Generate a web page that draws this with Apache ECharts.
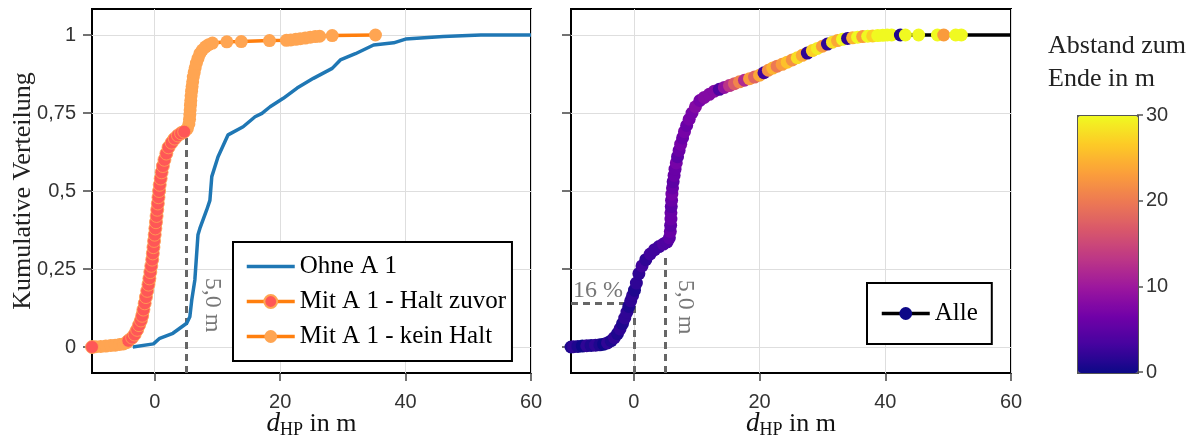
<!DOCTYPE html>
<html>
<head>
<meta charset="utf-8">
<script src="https://cdn.jsdelivr.net/npm/echarts@6/dist/echarts.min.js"></script>
<style>
  html, body { margin: 0; padding: 0; background: #fff; }
  #chart { width: 1195px; height: 438px; }
</style>
</head>
<body>
<div id="chart"></div>
<script>
// ---- data ----
// left panel: Ohne A 1
var ohneX = [-3.5, -0.2, 0.8, 2.9, 5.1, 5.6, 5.9, 6.4, 6.9, 7.2, 8.3, 8.8, 9.1, 10.1, 11.7, 14.1, 16.0, 17.1, 18.4, 20.5, 22.7, 25.3, 28.3, 29.6, 32.0, 34.9, 38.1, 40.0, 46.0, 52.0, 60.0];
var ohneY = [0.0, 0.01, 0.028, 0.044, 0.076, 0.097, 0.15, 0.215, 0.36, 0.38, 0.44, 0.47, 0.546, 0.61, 0.68, 0.706, 0.738, 0.749, 0.77, 0.797, 0.83, 0.861, 0.893, 0.92, 0.94, 0.968, 0.975, 0.987, 0.995, 1.0, 1.0];

// left panel: Mit A 1 - Halt zuvor
var haltX = [-10.0, -4.2, -3.6, -3.2, -2.8, -2.5, -2.2, -2.0, -1.8, -1.6, -1.4, -1.2, -1.0, -0.85, -0.7, -0.55, -0.4, -0.3, -0.2, -0.1,
             0.0, 0.1, 0.2, 0.3, 0.4, 0.5, 0.6, 0.7, 0.8, 0.95, 1.1, 1.3, 1.55, 1.85, 2.2, 2.7, 3.2, 3.7, 4.2, 4.7];
var haltY = [0.0, 0.02, 0.03, 0.04, 0.055, 0.07, 0.085, 0.1, 0.12, 0.14, 0.16, 0.18, 0.2, 0.22, 0.24, 0.26, 0.28, 0.3, 0.32, 0.34,
             0.36, 0.38, 0.4, 0.42, 0.44, 0.46, 0.48, 0.5, 0.52, 0.54, 0.56, 0.58, 0.6, 0.62, 0.64, 0.655, 0.668, 0.678, 0.685, 0.69];

// left panel: Mit A 1 - kein Halt
var keinX = [-9.9, -9.4, -8.6, -7.8, -7.0, -6.3, -5.6, -5.0, -4.5, -3.9, -3.0, -2.35, -1.9, -0.9, 3.0, 4.4, 5.2, 5.45, 5.55, 5.6,
             5.65, 5.7, 5.75, 5.8, 5.88, 5.96, 6.05, 6.15, 6.3, 6.45, 6.65, 6.9, 7.2, 7.6, 8.1, 8.6, 9.2, 11.5, 13.8, 18.3,
             21.0, 21.7, 22.5, 23.2, 24.0, 24.8, 25.6, 26.3, 28.3, 35.2];
var keinY = [0.0, 0.001, 0.002, 0.003, 0.005, 0.006, 0.008, 0.01, 0.014, 0.025, 0.05, 0.078, 0.11, 0.21, 0.665, 0.688, 0.70, 0.715, 0.73, 0.745,
             0.76, 0.775, 0.79, 0.805, 0.82, 0.835, 0.85, 0.865, 0.88, 0.895, 0.91, 0.925, 0.94, 0.952, 0.962, 0.969, 0.974, 0.978, 0.979, 0.982,
             0.983, 0.984, 0.986, 0.988, 0.99, 0.993, 0.995, 0.996, 0.998, 1.0];

// right panel: Alle (x, cumulative share, Abstand zum Ende)
var alleX = [-10.0, -9.6, -8.9, -8.2, -7.5, -6.8, -6.1, -5.4, -4.8, -4.2, -3.6, -3.1, -2.6, -2.2, -1.8, -1.45, -1.1, -0.8, -0.5, -0.2,
             0.1, 0.4, 0.8, 1.3, 1.9, 2.6, 3.3, 4.0, 4.7, 5.3, 5.65,
             5.8, 5.85, 5.9, 5.9, 5.95, 6.0, 6.05, 6.15, 6.25, 6.4, 6.55, 6.75, 6.95, 7.2, 7.45, 7.75, 8.05, 8.4, 8.8, 9.25, 9.8, 10.5, 11.2, 12.0,
             12.8, 13.6, 14.4, 15.2, 16.0, 16.8, 17.6, 18.4, 19.2, 20.0, 20.7, 21.4, 22.1, 22.8, 23.6, 24.4, 25.2, 26.0, 26.8, 27.6,
             28.4, 29.2, 30.0, 30.8, 31.6, 32.4, 33.2, 34.0, 34.8, 35.6, 36.4, 37.2, 38.0, 38.8, 39.6, 40.3, 41.0, 42.4, 43.2, 45.3,
             48.3, 49.3, 51.2, 52.1];
var alleY = [0, 0.001, 0.002, 0.003, 0.004, 0.005, 0.006, 0.007, 0.009, 0.013, 0.02, 0.03, 0.043, 0.058, 0.075, 0.093, 0.112, 0.13, 0.148, 0.165,
             0.182, 0.205, 0.235, 0.26, 0.28, 0.298, 0.312, 0.322, 0.33, 0.337, 0.35,
             0.37, 0.39, 0.41, 0.43, 0.45, 0.47, 0.49, 0.51, 0.53, 0.55, 0.57, 0.59, 0.61, 0.63, 0.65, 0.67, 0.69, 0.71, 0.73, 0.75, 0.77, 0.79, 0.80, 0.81,
             0.82, 0.826, 0.832, 0.838, 0.844, 0.85, 0.855, 0.86, 0.865, 0.871, 0.879, 0.887, 0.894, 0.9, 0.906, 0.913, 0.92, 0.927, 0.935, 0.942,
             0.95, 0.957, 0.964, 0.971, 0.977, 0.982, 0.986, 0.989, 0.991, 0.993, 0.995, 0.996, 0.997, 0.998, 0.999, 1, 1, 1, 1, 1,
             1, 1, 1, 1];
var alleDist = [1, 2, 1, 0, 2, 1, 2, 1, 0, 2, 1, 2, 1, 2, 1, 2, 2, 1, 2, 2,
                1, 2, 2, 3, 2, 3, 3, 3, 4, 4, 5,
                6, 5, 6, 6, 5, 6, 7, 6, 5, 6, 6, 7, 5, 6, 7, 6, 7, 6, 7, 7, 8, 7, 8, 8,
                8, 4, 9, 13, 17, 21, 12, 23, 18, 24, 3, 22, 25, 20, 23, 26, 22, 28, 24, 2,
                27, 29, 23, 2, 28, 24, 30, 2, 25, 30, 23, 30, 27, 30, 30, 30, 30, 1, 30, 30,
                30, 23, 30, 30];

// annotations
var thresholdX = 5.0;         // 5,0 m
var haltAtThreshold = 0.69;
var alleAtThreshold = 0.30;
var alleShareAtZero = 0.14;   // 16 %

// axes
var xMin = -10, xMax = 60;
var yMin = -1 / 12, yMax = 1 + 1 / 12;
var xTicks = [0, 20, 40, 60];
var yTicks = [0, 0.25, 0.5, 0.75, 1];
var distMin = 0, distMax = 30;
var plasma = ['#0d0887', '#46039f', '#7201a8', '#9c179e', '#bd3786', '#d8576b', '#ed7953', '#fb9f3a', '#fdca26', '#f0f921'];

var serif = '"Liberation Serif", "DejaVu Serif", serif';
var sans = '"Liberation Sans", Arial, sans-serif';

function pairs(xs, ys) {
  return xs.map(function (x, i) { return [x, ys[i]]; });
}

var haltData = pairs(haltX, haltY);
var keinData = pairs(keinX, keinY);
var mitLine = haltData.concat(keinData).sort(function (a, b) { return a[1] - b[1] || a[0] - b[0]; });
var alleData = alleX.map(function (x, i) { return [x, alleY[i], alleDist[i]]; });
alleData.push({ value: [xMax, 1, distMax], symbol: 'none' });

var chart = echarts.init(document.getElementById('chart'));

function xAxisFor(g) {
  return {
    type: 'value', gridIndex: g, min: xMin, max: xMax,
    name: '{d|d}{s|HP}{t| in m}', nameLocation: 'middle', nameGap: 36, nameMoveOverlap: false,
    nameTextStyle: {
      fontFamily: serif, fontSize: 26, color: '#111',
      rich: {
        d: { fontFamily: serif, fontStyle: 'italic', fontSize: 27, color: '#111', lineHeight: 30 },
        s: { fontFamily: serif, fontSize: 18, color: '#111', lineHeight: 16, verticalAlign: 'bottom' },
        t: { fontFamily: serif, fontSize: 26, color: '#111', lineHeight: 30 }
      }
    },
    axisLine: { show: false, onZero: false },
    axisTick: { show: true, length: 8, customValues: xTicks, lineStyle: { color: '#444', width: 1.5 } },
    axisLabel: { customValues: xTicks, margin: 19, fontFamily: sans, fontSize: 20, color: '#333' },
    splitLine: { show: true, lineStyle: { color: '#dedede', width: 1 } }
  };
}

function yAxisFor(g, showLabels) {
  return {
    type: 'value', gridIndex: g, min: yMin, max: yMax,
    name: showLabels ? 'Kumulative Verteilung' : '', nameLocation: 'middle', nameGap: 56, nameMoveOverlap: false,
    nameTextStyle: { fontFamily: serif, fontSize: 26, color: '#222' },
    axisLine: { show: false, onZero: false },
    axisTick: { show: true, length: 9, customValues: yTicks, lineStyle: { color: '#444', width: 1.5 } },
    axisLabel: {
      show: showLabels, customValues: yTicks, margin: 16, fontFamily: sans, fontSize: 20, color: '#333',
      formatter: function (v) { return String(v).replace('.', ','); }
    },
    splitLine: { show: true, lineStyle: { color: '#dedede', width: 1 } }
  };
}

var dash = { color: '#666', width: 3, type: [7, 5] };

var option = {
  animation: false,
  backgroundColor: '#fff',
  grid: [
    { left: 92, top: 9, width: 439, height: 364, show: true, borderColor: '#000', borderWidth: 2, backgroundColor: 'transparent', outerBoundsMode: 'none' },
    { left: 571, top: 9, width: 440, height: 364, show: true, borderColor: '#000', borderWidth: 2, backgroundColor: 'transparent', outerBoundsMode: 'none' },
    { left: 1077, top: 115, width: 60, height: 257, show: false, outerBoundsMode: 'none' }
  ],
  xAxis: [
    xAxisFor(0),
    xAxisFor(1),
    { type: 'value', gridIndex: 2, min: 0, max: 1, show: false }
  ],
  yAxis: [
    yAxisFor(0, true),
    yAxisFor(1, false),
    {
      type: 'value', gridIndex: 2, position: 'right', min: distMin, max: distMax, interval: 10,
      axisLine: { show: false, onZero: false },
      axisTick: { show: true, length: 6, lineStyle: { color: '#555', width: 1.5 } },
      axisLabel: { margin: 9, fontFamily: sans, fontSize: 20, color: '#333' },
      splitLine: { show: false }
    }
  ],
  visualMap: {
    type: 'continuous', seriesIndex: 4, dimension: 2, min: distMin, max: distMax,
    inRange: { color: plasma }, calculable: false, hoverLink: false,
    orient: 'vertical', left: 1077, top: 115, itemWidth: 60, itemHeight: 257,
    padding: 0, borderColor: '#555', borderWidth: 2, text: null, showLabel: false
  },
  legend: [
    {
      data: [
        { name: 'Ohne A 1', itemStyle: { opacity: 0 }, lineStyle: { color: '#1f77b4', width: 3.5 } },
        { name: 'Mit A 1 - Halt zuvor', lineStyle: { color: '#ff7f0e', width: 3.5, opacity: 1 } },
        { name: 'Mit A 1 - kein Halt', lineStyle: { color: '#ff7f0e', width: 3.5, opacity: 1 } }
      ],
      orient: 'vertical', left: 233, top: 242, itemWidth: 48, itemHeight: 16, itemGap: 10,
      padding: [12, 6, 12, 12], borderColor: '#000', borderWidth: 2, borderRadius: 0, backgroundColor: '#fff',
      textStyle: { fontFamily: serif, fontSize: 25, color: '#000' }, selectedMode: false
    },
    {
      data: [{ name: 'Alle', itemStyle: { color: '#0d0887' }, lineStyle: { color: '#000', width: 3.5 } }],
      orient: 'vertical', left: 867, top: 283, itemWidth: 48, itemHeight: 16,
      padding: [18, 14, 18, 13], borderColor: '#000', borderWidth: 2, borderRadius: 0, backgroundColor: '#fff',
      textStyle: { fontFamily: serif, fontSize: 25, color: '#000' }, selectedMode: false
    }
  ],
  graphic: [
    { type: 'text', x: 212, y: 305, rotation: -Math.PI / 2, style: { text: '5,0 m', font: '24px ' + serif, fill: '#777', align: 'center', verticalAlign: 'middle' } },
    { type: 'text', x: 685, y: 307, rotation: -Math.PI / 2, style: { text: '5,0 m', font: '24px ' + serif, fill: '#777', align: 'center', verticalAlign: 'middle' } },
    { type: 'text', x: 573, y: 291, style: { text: '16 %', font: '24px ' + serif, fill: '#777', align: 'left', verticalAlign: 'middle' } },
    { type: 'text', x: 1048, y: 30, style: { text: 'Abstand zum\nEnde in m', font: '26px ' + serif, fill: '#222', align: 'left', verticalAlign: 'top', lineHeight: 33 } }
  ],
  series: [
    {
      name: 'Ohne A 1', type: 'line', xAxisIndex: 0, yAxisIndex: 0, data: pairs(ohneX, ohneY),
      symbol: 'none', lineStyle: { color: '#1f77b4', width: 3.5 }, itemStyle: { color: '#1f77b4' }, z: 2
    },
    {
      name: 'Mit A 1', type: 'line', xAxisIndex: 0, yAxisIndex: 0, data: mitLine,
      symbol: 'none', lineStyle: { color: '#ff7f0e', width: 3.5 }, itemStyle: { color: '#ff7f0e' }, z: 2,
      markLine: {
        silent: true, z: 1, symbol: ['none', 'none'], label: { show: false }, lineStyle: dash,
        data: [[{ coord: [thresholdX, yMin] }, { coord: [thresholdX, haltAtThreshold] }]]
      }
    },
    {
      name: 'Mit A 1 - kein Halt', type: 'line', xAxisIndex: 0, yAxisIndex: 0, data: keinData,
      symbol: 'circle', symbolSize: 13, showSymbol: true,
      lineStyle: { color: '#ff7f0e', width: 3.5, opacity: 0 }, itemStyle: { color: '#ffa552' }, z: 3
    },
    {
      name: 'Mit A 1 - Halt zuvor', type: 'line', xAxisIndex: 0, yAxisIndex: 0, data: haltData,
      symbol: 'circle', symbolSize: 13, showSymbol: true,
      lineStyle: { color: '#ff7f0e', width: 3.5, opacity: 0 },
      itemStyle: { color: '#ff5757', borderColor: '#ffa552', borderWidth: 0.8 }, z: 4
    },
    {
      name: 'Alle', type: 'line', xAxisIndex: 1, yAxisIndex: 1, data: alleData,
      symbol: 'circle', symbolSize: 13, showSymbol: true,
      lineStyle: { color: '#000', width: 3.5 }, itemStyle: { color: '#0d0887' }, z: 3,
      markLine: {
        silent: true, z: 1, symbol: ['none', 'none'], label: { show: false }, lineStyle: dash,
        data: [
          [{ coord: [thresholdX, yMin] }, { coord: [thresholdX, alleAtThreshold] }],
          [{ coord: [0, yMin] }, { coord: [0, alleShareAtZero] }],
          [{ coord: [xMin, alleShareAtZero] }, { coord: [0, alleShareAtZero] }]
        ]
      }
    }
  ]
};

chart.setOption(option);
</script>
</body>
</html>
